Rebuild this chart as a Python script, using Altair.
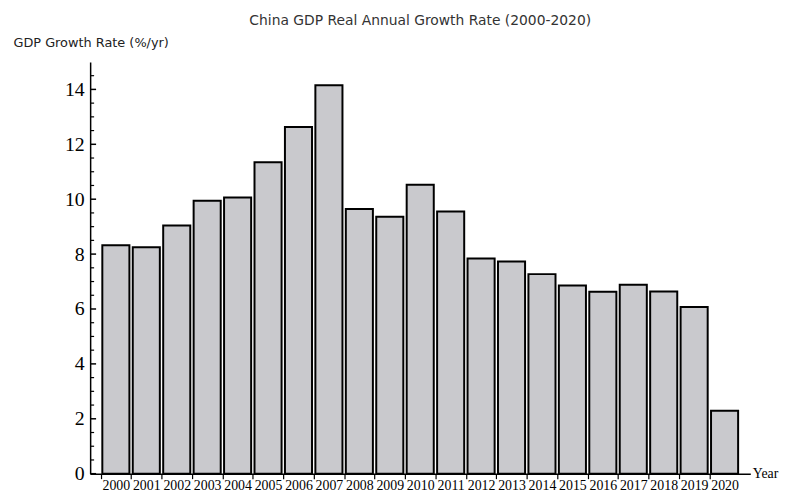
import altair as alt
import pandas as pd

# ---- data ----
years = [str(y) for y in range(2000, 2021)]
growth = [8.32, 8.25, 9.04, 9.94, 10.06, 11.35, 12.63, 14.15, 9.64, 9.36, 10.53,
          9.55, 7.84, 7.73, 7.27, 6.86, 6.63, 6.88, 6.64, 6.07, 2.29]
major_ticks = [0, 2, 4, 6, 8, 10, 12, 14]
minor_ticks = [0.5, 1, 1.5, 2.5, 3, 3.5, 4.5, 5, 5.5, 6.5, 7, 7.5, 8.5, 9, 9.5,
               10.5, 11, 11.5, 12.5, 13, 13.5, 14.5]

df = pd.DataFrame({"year": years, "growth": growth})
df_major = pd.DataFrame({"growth": major_ticks})
df_minor = pd.DataFrame({"growth": minor_ticks})

W, H = 667, 416
half_step = W / (21 - 0.11 + 2 * 0.4) / 2

yscale = alt.Scale(domain=[0, 15], nice=False, zero=True)
yaxis = alt.Axis(title="GDP Growth Rate (%/yr)", values=major_ticks,
                 ticks=False, grid=False, labelFont="Liberation Serif",
                 labelFontSize=20, labelColor="black", labelPadding=6,
                 domainColor="black", domainWidth=1.5,
                 titleAngle=0, titleX=-78, titleY=-20,
                 titleAlign="left", titleBaseline="middle",
                 titleFont="DejaVu Sans", titleFontSize=13,
                 titleFontWeight="normal", titleColor="#222")

bars = alt.Chart(df).mark_bar(fill="#c9c9cd", stroke="black", strokeWidth=2).encode(
    x=alt.X("year:N",
            scale=alt.Scale(paddingInner=0.11, paddingOuter=0.4),
            axis=alt.Axis(title="Year", labelAngle=0, labelOverlap=False,
                          labelFont="Liberation Serif", labelFontSize=14,
                          labelColor="black", labelPadding=0,
                          tickOffset=-half_step, labelOffset=half_step,
                          tickSize=5, tickColor="black", tickWidth=1.2,
                          domainColor="black", domainWidth=1.5,
                          titleX=W + 2, titleY=0, titleAlign="left",
                          titleBaseline="middle", titleFont="Liberation Serif",
                          titleFontSize=14, titleFontWeight="normal",
                          titleColor="black", labelBound=False)),
    y=alt.Y("growth:Q", scale=yscale, axis=yaxis),
)

major = alt.Chart(df_major).mark_rule(color="black", strokeWidth=1.5).encode(
    y=alt.Y("growth:Q", scale=yscale, axis=yaxis),
    x=alt.value(0), x2=alt.value(6))

minor = alt.Chart(df_minor).mark_rule(color="black", strokeWidth=1.2).encode(
    y=alt.Y("growth:Q", scale=yscale, axis=yaxis),
    x=alt.value(0), x2=alt.value(4))

chart = alt.layer(bars, major, minor).properties(
    width=W, height=H,
    title=alt.TitleParams("China GDP Real Annual Growth Rate (2000-2020)",
                          font="DejaVu Sans", fontSize=14, fontWeight="normal",
                          color="#333", anchor="middle", frame="group", offset=8),
    autosize=alt.AutoSizeParams(type="none"),
    padding={"left": 83, "top": 52, "right": 29, "bottom": 17},
).configure_view(stroke=None)

chart.save("out.html", embed_options={"renderer": "svg", "actions": False})
